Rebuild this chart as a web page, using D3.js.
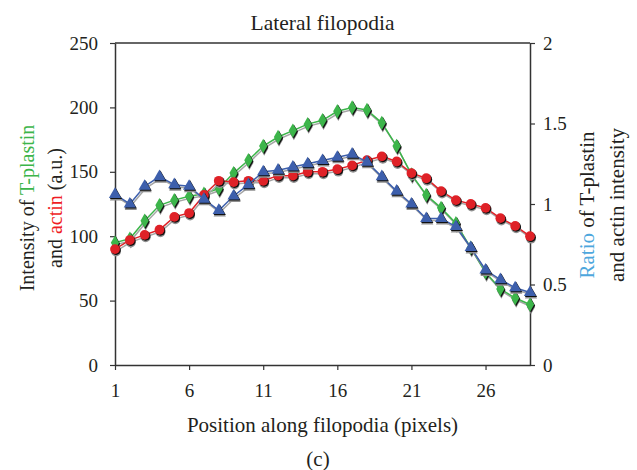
<!DOCTYPE html>
<html>
<head>
<meta charset="utf-8">
<script src="https://cdn.jsdelivr.net/npm/d3@7"></script>
<style>
  body { margin: 0; background: #fff; }
  svg text { font-family: "Liberation Serif", "DejaVu Serif", serif; fill: #231f20; }
</style>
</head>
<body>
<div id="chart"></div>
<script>
// positions along the filopodia (pixels)
const positions = [1, 2, 3, 4, 5, 6, 7, 8, 9, 10, 11, 12, 13, 14, 15, 16, 17, 18, 19, 20, 21, 22, 23, 24, 25, 26, 27, 28, 29];
const tplastin = [95, 98, 112, 124, 128, 131, 133, 137, 149, 159, 170, 177, 182, 187, 190, 197, 200, 198, 188, 170, 148, 132, 122, 110, 91, 72, 59, 52, 47];
const actin = [90, 97, 101, 105, 115, 118, 132, 143, 142, 143, 143, 147, 147, 150, 150, 152, 155, 159, 162, 158, 149, 145, 135, 128, 125, 122, 114, 108, 100];
const ratio = [1.06, 1.00, 1.11, 1.17, 1.12, 1.11, 1.03, 0.96, 1.05, 1.12, 1.20, 1.21, 1.23, 1.25, 1.27, 1.29, 1.31, 1.26, 1.17, 1.08, 1.00, 0.91, 0.91, 0.86, 0.73, 0.59, 0.53, 0.48, 0.45];

const xTicks = [1, 6, 11, 16, 21, 26];
const leftTicks = [0, 50, 100, 150, 200, 250];
const rightTicks = [0, 0.5, 1, 1.5, 2];

const W = 637, H = 470;
const margin = { top: 43, right: 107, bottom: 105, left: 115 };
const width = W - margin.left - margin.right;
const height = H - margin.top - margin.bottom;

const svg = d3.select("#chart").append("svg")
    .attr("width", W)
    .attr("height", H);

const g = svg.append("g")
    .attr("transform", `translate(${margin.left},${margin.top})`);

const x = d3.scaleLinear().domain([1, 29]).range([0, width]);
const yL = d3.scaleLinear().domain([0, 250]).range([height, 0]);
const yR = d3.scaleLinear().domain([0, 2]).range([height, 0]);

// frame (top border)
g.append("line")
    .attr("x1", 0).attr("x2", width)
    .attr("y1", 0).attr("y2", 0)
    .attr("stroke", "#333").attr("stroke-width", 1.5);

// axes
const styleAxis = sel => {
    sel.selectAll("path").attr("stroke", "#333").attr("stroke-width", 1.5);
    sel.selectAll("line").attr("stroke", "#333").attr("stroke-width", 1.2);
    sel.selectAll("text").attr("font-size", 19).attr("fill", "#231f20")
        .style("font-family", "'Liberation Serif', serif");
};

g.append("g")
    .attr("transform", `translate(0,${height})`)
    .call(d3.axisBottom(x).tickValues(xTicks).tickSize(5).tickSizeOuter(0).tickPadding(14).tickFormat(d3.format("d")))
    .call(styleAxis);

g.append("g")
    .call(d3.axisLeft(yL).tickValues(leftTicks).tickSize(5).tickSizeOuter(0).tickPadding(12))
    .call(styleAxis);

g.append("g")
    .attr("transform", `translate(${width},0)`)
    .call(d3.axisRight(yR).tickValues(rightTicks).tickSize(5).tickSizeOuter(0).tickPadding(8).tickFormat(d => d))
    .call(styleAxis);

// series
const series = [
    { values: tplastin, y: yL, color: "#3cb54a", shape: d3.symbolDiamond, size: 60 },
    { values: actin, y: yL, color: "#df2127", shape: d3.symbolCircle, size: 75 },
    { values: ratio, y: yR, color: "#3d5fac", shape: d3.symbolTriangle, size: 65 }
];

series.forEach(s => {
    const pts = positions.map((p, i) => [p, s.values[i]]);
    const line = d3.line().x(d => x(d[0])).y(d => s.y(d[1]));

    // drop shadow of the line
    g.append("path")
        .datum(pts)
        .attr("d", line)
        .attr("transform", "translate(1,2)")
        .attr("fill", "none")
        .attr("stroke", "#a5a5a5")
        .attr("stroke-width", 1.5);

    g.append("path")
        .datum(pts)
        .attr("d", line)
        .attr("fill", "none")
        .attr("stroke", s.color)
        .attr("stroke-width", 1.5);

    const sym = d3.symbol().type(s.shape).size(s.size);

    // shadow markers
    g.append("g").selectAll("path")
        .data(pts)
        .join("path")
        .attr("d", sym)
        .attr("transform", d => `translate(${x(d[0]) + 1},${s.y(d[1]) + 2.5})`)
        .attr("fill", "#8f8f8f");

    g.append("g").selectAll("path")
        .data(pts)
        .join("path")
        .attr("d", sym)
        .attr("transform", d => `translate(${x(d[0]) + 1},${s.y(d[1]) + 1})`)
        .attr("fill", "#111");

    g.append("g").selectAll("path")
        .data(pts)
        .join("path")
        .attr("d", sym)
        .attr("transform", d => `translate(${x(d[0])},${s.y(d[1])})`)
        .attr("fill", s.color);
});

// title
svg.append("text")
    .attr("x", margin.left + width / 2)
    .attr("y", 30)
    .attr("text-anchor", "middle")
    .attr("font-size", 21.5)
    .text("Lateral filopodia");

// x axis title
svg.append("text")
    .attr("x", margin.left + width / 2)
    .attr("y", 432)
    .attr("text-anchor", "middle")
    .attr("font-size", 21)
    .text("Position along filopodia (pixels)");

svg.append("text")
    .attr("x", 318)
    .attr("y", 466)
    .attr("text-anchor", "middle")
    .attr("font-size", 21)
    .text("(c)");

// left axis title
const leftTitle = svg.append("text")
    .attr("transform", `translate(34,${margin.top + height / 2 + 4}) rotate(-90)`)
    .attr("text-anchor", "middle")
    .attr("font-size", 20);
leftTitle.append("tspan").text("Intensity of ");
leftTitle.append("tspan").style("fill", "#3cb54a").text("T-plastin");

const leftTitle2 = svg.append("text")
    .attr("transform", `translate(62,${margin.top + height / 2 + 4}) rotate(-90)`)
    .attr("text-anchor", "middle")
    .attr("font-size", 20);
leftTitle2.append("tspan").text("and ");
leftTitle2.append("tspan").style("fill", "#ef1c24").text("actin");
leftTitle2.append("tspan").text(" (a.u.)");

// right axis title
const rightTitle = svg.append("text")
    .attr("transform", `translate(594,${margin.top + height / 2 + 1}) rotate(-90)`)
    .attr("text-anchor", "middle")
    .attr("font-size", 21);
rightTitle.append("tspan").style("fill", "#4ea7dd").text("Ratio");
rightTitle.append("tspan").text(" of T-plastin");

svg.append("text")
    .attr("transform", `translate(624,${margin.top + height / 2 + 1}) rotate(-90)`)
    .attr("text-anchor", "middle")
    .attr("font-size", 21)
    .text("and actin intensity");
</script>
</body>
</html>
